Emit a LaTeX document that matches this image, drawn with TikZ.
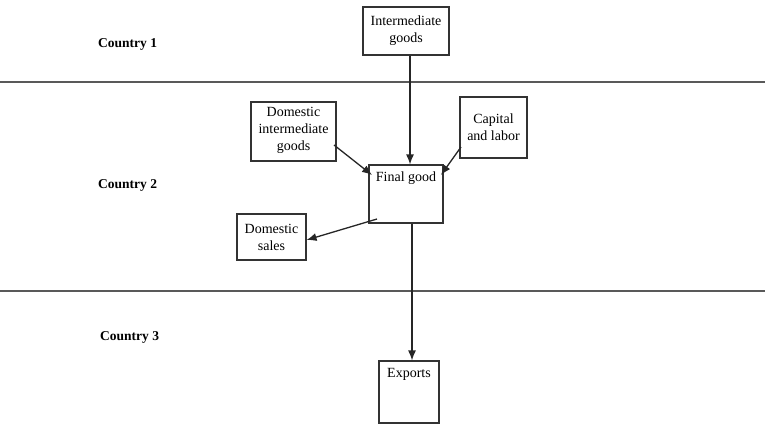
\documentclass[tikz,border=0pt]{standalone}
\usepackage{fontspec}
\setmainfont{Liberation Serif}
\usetikzlibrary{arrows.meta,calc}
\begin{document}
\begin{tikzpicture}[x=1pt,y=-1pt,
  box/.style={draw=black!80,line width=1.1pt,rectangle,inner sep=0pt,align=center,
    font=\fontsize{14}{17}\selectfont},
  toplab/.style={label={[anchor=north,yshift=-4pt,font=\fontsize{14}{17}\selectfont]north:#1}},
  arr/.style={draw=black!85,line width=1.3pt,-{Latex[length=10pt,width=8pt]}},
  sep/.style={draw=black!65,line width=1.2pt},
  country/.style={anchor=west,inner sep=0pt,font=\fontsize{13.5}{15}\selectfont\bfseries}]
\useasboundingbox (0,0) rectangle (765,424);
\draw[sep] (0,82) -- (765,82);
\draw[sep] (0,291) -- (765,291);
\node[country] (c1) at (98,44) {Country 1};
\node[country] (c2) at (98,185) {Country 2};
\node[country] (c3) at (100,337) {Country 3};
\node[box,minimum width=86pt,minimum height=48pt] (ig) at (406,31) {Intermediate\\goods};
\node[box,minimum width=85pt,minimum height=59pt,text depth=6pt] (dig) at (293.5,131.5) {Domestic\\intermediate\\goods};
\node[box,minimum width=67pt,minimum height=61pt] (cl) at (493.5,127.5) {Capital\\and labor};
\node[box,minimum width=74pt,minimum height=58pt,toplab={Final good}] (fg) at (406,194) {};
\node[box,minimum width=69pt,minimum height=46pt] (ds) at (271.5,237) {Domestic\\sales};
\node[box,minimum width=60pt,minimum height=62pt,toplab={Exports}] (ex) at (409,392) {};
\coordinate (vx) at (410,0);
\coordinate (vx2) at (412,0);
\draw[arr] (ig.south -| vx) -- (fg.north -| vx);
\coordinate (a1) at (334,145);
\coordinate (a2) at (372,175);
\draw[arr] (a1) -- (a2);
\coordinate (b1) at (461,147);
\coordinate (b2) at (441,175);
\draw[arr] (b1) -- (b2);
\coordinate (d1) at (377,219);
\draw[arr] (d1) -- (ds.east |- 0,240);
\draw[arr] (fg.south -| vx2) -- (ex.north -| vx2);
\end{tikzpicture}
\end{document}
